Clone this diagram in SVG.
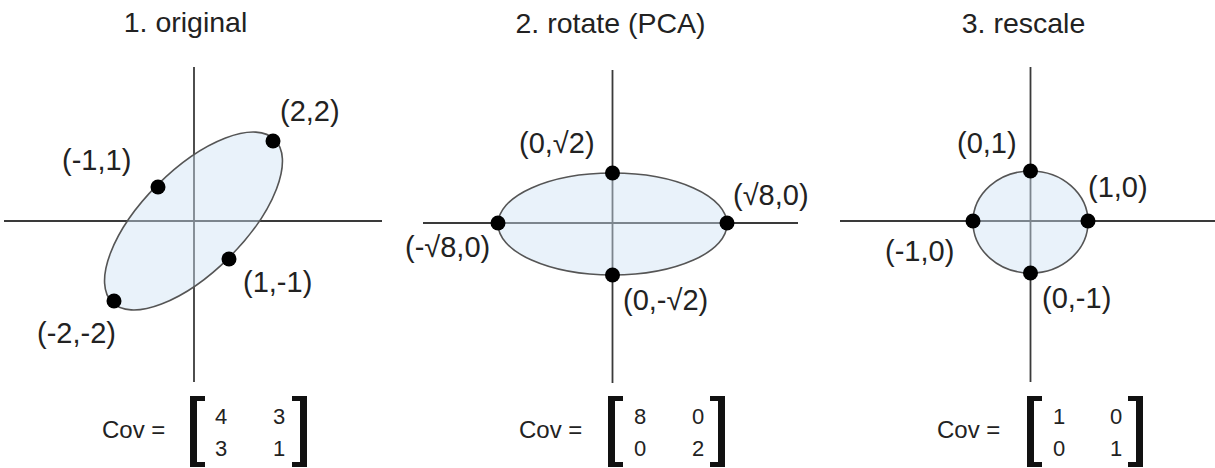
<svg xmlns="http://www.w3.org/2000/svg" width="1215" height="468" viewBox="0 0 1215 468">
<style>
  text { font-family: "Liberation Sans", Arial, sans-serif; fill: #222; }
  .title { font-size: 28.5px; text-anchor: middle; }
  .lbl { font-size: 29px; }
  .cov { font-size: 24px; }
  .num { font-size: 22px; text-anchor: middle; }
  .axis { stroke: #3a3a3a; stroke-width: 1.8; fill: none; }
  .ell { fill: #cfe2f3; fill-opacity: 0.45; stroke: #555; stroke-width: 1.6; }
  .dot { fill: #000; }
  .br { fill: #111; }
</style>
<rect width="1215" height="468" fill="#fff"/>

<!-- Panel 1 -->
<g id="panel1">
  <text class="title" x="185.5" y="32">1. original</text>
  <g id="axes1">
    <line class="axis" x1="194" y1="67" x2="194" y2="382"/>
    <line class="axis" x1="4" y1="221" x2="382" y2="221"/>
  </g>
  <ellipse class="ell" cx="0" cy="0" rx="115" ry="51" transform="translate(193.5 221) rotate(-45)"/>
  <g id="p1-22"><circle class="dot" cx="273" cy="141" r="7.5"/><text class="lbl" x="280" y="121">(2,2)</text></g>
  <g id="p1-m11"><circle class="dot" cx="158" cy="187" r="7.5"/><text class="lbl" x="62" y="170">(-1,1)</text></g>
  <g id="p1-1m1"><circle class="dot" cx="229" cy="259" r="7.5"/><text class="lbl" x="243" y="292">(1,-1)</text></g>
  <g id="p1-m2m2"><circle class="dot" cx="114" cy="301" r="7.5"/><text class="lbl" x="37" y="343">(-2,-2)</text></g>
  <g id="cov1">
    <text class="cov" x="102" y="438">Cov =</text>
    <path class="br" d="M190 396 H205 V401 H197 V462 H205 V467 H190 Z"/>
    <path class="br" d="M307 396 H292 V401 H300 V462 H292 V467 H307 Z"/>
    <text class="num" x="221" y="424">4</text>
    <text class="num" x="279" y="424">3</text>
    <text class="num" x="221" y="456">3</text>
    <text class="num" x="279" y="456">1</text>
  </g>
</g>

<!-- Panel 2 -->
<g id="panel2">
  <text class="title" x="610.5" y="33">2. rotate (PCA)</text>
  <g id="axes2">
    <line class="axis" x1="612.5" y1="70" x2="612.5" y2="383"/>
    <line class="axis" x1="423" y1="223" x2="798" y2="223"/>
  </g>
  <ellipse class="ell" cx="612.5" cy="224" rx="114.5" ry="51"/>
  <g id="p2-top"><circle class="dot" cx="612.5" cy="173" r="7.5"/><text class="lbl" x="519" y="153">(0,√2)</text></g>
  <g id="p2-right"><circle class="dot" cx="727" cy="223" r="7.5"/><text class="lbl" x="733" y="205">(√8,0)</text></g>
  <g id="p2-left"><circle class="dot" cx="498" cy="223" r="7.5"/><text class="lbl" x="405" y="257">(-√8,0)</text></g>
  <g id="p2-bottom"><circle class="dot" cx="612.5" cy="275" r="7.5"/><text class="lbl" x="623" y="310">(0,-√2)</text></g>
  <g id="cov2">
    <text class="cov" x="519" y="438">Cov =</text>
    <path class="br" d="M608 396 H623 V401 H615 V462 H623 V467 H608 Z"/>
    <path class="br" d="M725 396 H710 V401 H718 V462 H710 V467 H725 Z"/>
    <text class="num" x="640" y="424">8</text>
    <text class="num" x="698" y="424">0</text>
    <text class="num" x="640" y="456">0</text>
    <text class="num" x="698" y="456">2</text>
  </g>
</g>

<!-- Panel 3 -->
<g id="panel3">
  <text class="title" x="1023.5" y="33">3. rescale</text>
  <g id="axes3">
    <line class="axis" x1="1030.5" y1="67" x2="1030.5" y2="382"/>
    <line class="axis" x1="840" y1="221" x2="1215" y2="221"/>
  </g>
  <ellipse class="ell" cx="1030.5" cy="222" rx="57.5" ry="51"/>
  <g id="p3-top"><circle class="dot" cx="1030.5" cy="171" r="7.5"/><text class="lbl" x="957" y="153">(0,1)</text></g>
  <g id="p3-right"><circle class="dot" cx="1088" cy="221" r="7.5"/><text class="lbl" x="1088" y="197">(1,0)</text></g>
  <g id="p3-left"><circle class="dot" cx="973" cy="221" r="7.5"/><text class="lbl" x="885" y="261">(-1,0)</text></g>
  <g id="p3-bottom"><circle class="dot" cx="1030.5" cy="273" r="7.5"/><text class="lbl" x="1042" y="308">(0,-1)</text></g>
  <g id="cov3">
    <text class="cov" x="937" y="438">Cov =</text>
    <path class="br" d="M1027 396 H1042 V401 H1034 V462 H1042 V467 H1027 Z"/>
    <path class="br" d="M1143 396 H1128 V401 H1136 V462 H1128 V467 H1143 Z"/>
    <text class="num" x="1059" y="424">1</text>
    <text class="num" x="1116" y="424">0</text>
    <text class="num" x="1059" y="456">0</text>
    <text class="num" x="1116" y="456">1</text>
  </g>
</g>
</svg>
